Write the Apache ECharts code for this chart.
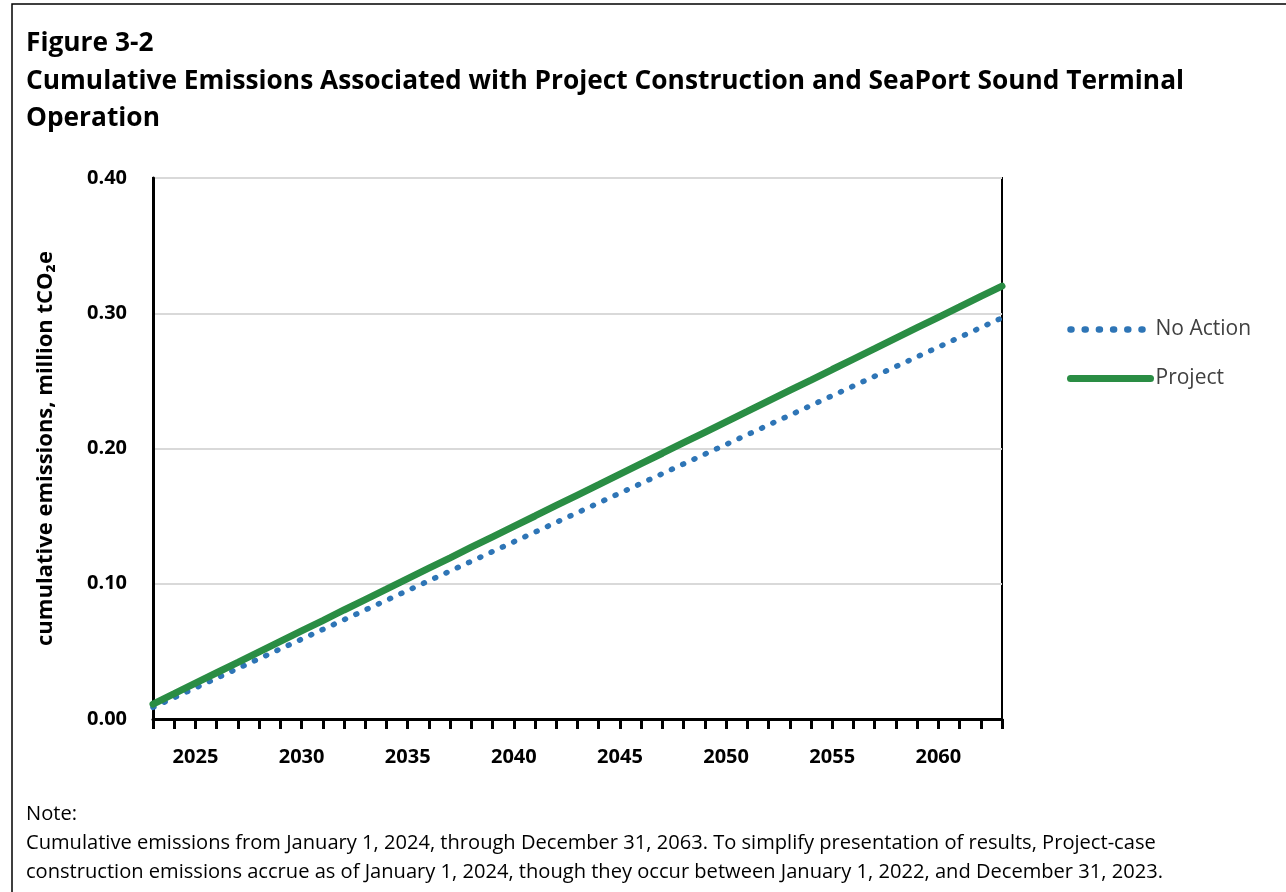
<!DOCTYPE html>
<html>
<head>
<meta charset="utf-8">
<script src="https://cdn.jsdelivr.net/npm/echarts@6/dist/echarts.min.js"></script>
<style>html,body{margin:0;padding:0;background:#fff}#c{width:1286px;height:892px}</style>
</head>
<body>
<div id="c"></div>
<script>
const years = [2023,2024,2025,2026,2027,2028,2029,2030,2031,2032,2033,2034,2035,2036,2037,2038,2039,2040,2041,2042,2043,2044,2045,2046,2047,2048,2049,2050,2051,2052,2053,2054,2055,2056,2057,2058,2059,2060,2061,2062,2063];
const noAction = [0.0086,0.0158,0.0230,0.0302,0.0374,0.0446,0.0518,0.0590,0.0662,0.0734,0.0806,0.0878,0.0950,0.1022,0.1094,0.1166,0.1238,0.1310,0.1382,0.1454,0.1526,0.1598,0.1670,0.1742,0.1814,0.1886,0.1958,0.2030,0.2102,0.2174,0.2246,0.2318,0.2390,0.2462,0.2534,0.2606,0.2678,0.2750,0.2822,0.2894,0.2966];
const project = [0.0110,0.0187,0.0265,0.0342,0.0419,0.0497,0.0574,0.0651,0.0728,0.0806,0.0883,0.0960,0.1038,0.1115,0.1192,0.1270,0.1347,0.1424,0.1501,0.1579,0.1656,0.1733,0.1811,0.1888,0.1965,0.2043,0.2120,0.2197,0.2274,0.2352,0.2429,0.2506,0.2584,0.2661,0.2738,0.2816,0.2893,0.2970,0.3047,0.3125,0.3200];
const seriesNames = ['No Action','Project'];
const titleLines = ['Figure 3-2','Cumulative Emissions Associated with Project Construction and SeaPort Sound Terminal','Operation'];
const noteLines = ['Note:','Cumulative emissions from January 1, 2024, through December 31, 2063. To simplify presentation of results, Project-case','construction emissions accrue as of January 1, 2024, though they occur between January 1, 2022, and December 31, 2023.'];
const yAxisName = 'cumulative emissions, million tCO\u2082e';

const FONT = '"Open Sans", "Noto Sans", sans-serif';
const BLUE = '#2E75B6', GREEN = '#2A8D44';
const DOTS = [1, 11.4];
const chart = echarts.init(document.getElementById('c'), null, {renderer:'canvas'});
const pair = (xs, ys) => xs.map((x,i)=>[x, ys[i]]);

const graphics = [
  {type:'rect', shape:{x:12,y:4,width:1400,height:1000}, style:{fill:'none', stroke:'#000', lineWidth:1.5}, silent:true, z:0}
];
titleLines.forEach((t,i)=>{
  graphics.push({type:'text', left:26, top:31 + i*37.5, style:{text:t, font:'bold 26.3px '+FONT, fill:'#000'}});
});
noteLines.forEach((t,i)=>{
  graphics.push({type:'text', left:26, top:804 + i*29, style:{text:t, font:'20.1px '+FONT, fill:'#000'}});
});

chart.setOption({
  animation:false,
  backgroundColor:'#fff',
  textStyle:{fontFamily:FONT},
  grid:{left:153, right:284, top:178, bottom:173, show:true, borderColor:'#000', borderWidth:2, containLabel:false},
  graphic:graphics,
  legend:{
    orient:'vertical', left:1062, top:314, itemGap:28, itemWidth:80, itemHeight:16,
    itemStyle:{opacity:0},
    textStyle:{fontSize:21, color:'#404040', fontFamily:FONT},
    data:[
      {name:seriesNames[0], lineStyle:{color:BLUE, width:6.5, type:[1,13.2], cap:'round'}},
      {name:seriesNames[1], lineStyle:{color:GREEN, width:7, cap:'round'}}
    ]
  },
  xAxis:{
    type:'value', min:2023, max:2063, interval:1,
    axisLine:{show:true, lineStyle:{color:'#000', width:3}},
    axisTick:{show:true, length:10, inside:false, lineStyle:{color:'#000', width:3}},
    axisLabel:{
      margin:28, fontSize:20, fontWeight:'bold', color:'#000', fontFamily:FONT,
      formatter:v => (v % 5 === 0 ? String(v) : '')
    },
    splitLine:{show:false}
  },
  yAxis:{
    type:'value', min:0, max:0.4, interval:0.1,
    name:yAxisName, nameLocation:'middle', nameGap:96, nameRotate:90,
    nameTextStyle:{fontSize:22, fontWeight:'bold', color:'#000', fontFamily:FONT},
    axisLine:{show:true, lineStyle:{color:'#000', width:3}},
    axisTick:{show:false},
    axisLabel:{margin:26, fontSize:20, fontWeight:'bold', color:'#000', fontFamily:FONT, formatter:v=>v.toFixed(2)},
    splitLine:{show:true, lineStyle:{color:'#d9d9d9', width:2}}
  },
  series:[
    {name:seriesNames[0], type:'line', data:pair(years,noAction), symbol:'none', z:3,
     itemStyle:{color:BLUE},
     lineStyle:{color:BLUE, width:5.5, type:DOTS, cap:'round'}},
    {name:seriesNames[1], type:'line', data:pair(years,project), symbol:'none', z:4,
     itemStyle:{color:GREEN},
     lineStyle:{color:GREEN, width:7, cap:'round'}}
  ]
});
</script>
</body>
</html>
